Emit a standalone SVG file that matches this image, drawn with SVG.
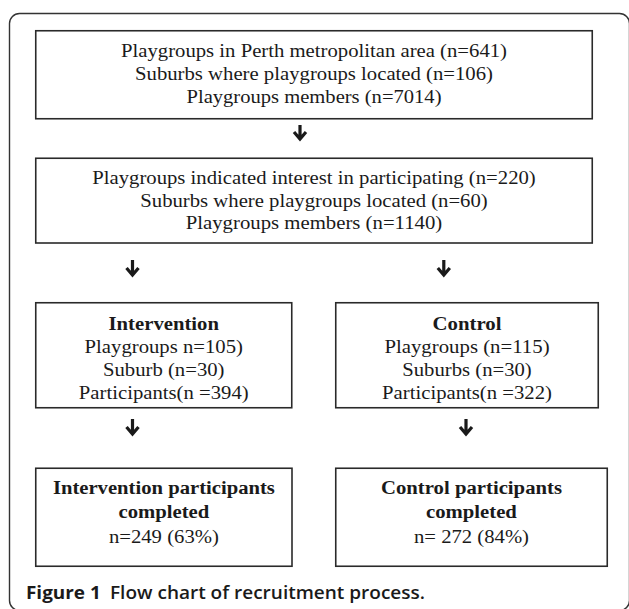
<svg xmlns="http://www.w3.org/2000/svg" width="629" height="609" viewBox="0 0 629 609">
<style>
.box{fill:#fff;stroke:#2a2a2a;stroke-width:1.6}
.t{font-family:"Liberation Serif","Times New Roman",serif;font-size:18.5px;fill:#1a1a1a;text-anchor:middle}
.b{font-weight:bold}
.arr{fill:none;stroke:#1a1a1a;stroke-width:3.2;stroke-linecap:butt;stroke-linejoin:miter}
.cap{font-family:"Open Sans","Liberation Sans",Arial,sans-serif;font-size:17.5px;fill:#1a1a1a}
</style>
<rect x="9.5" y="13.5" width="620" height="597" rx="10" ry="10" fill="none" stroke="#333" stroke-width="1.4"/>
<g id="connectors">
<path class="arr" d="M300 125V139M294 132L300 139L306 132"/>
<path class="arr" d="M132.5 260V275M126.5 268L132.5 275L138.5 268"/>
<path class="arr" d="M443.8 260V275M437.8 268L443.8 275L449.8 268"/>
<path class="arr" d="M132.5 419V434M126.5 427L132.5 434L138.5 427"/>
<path class="arr" d="M466 419V434M460 427L466 434L472 427"/>
</g>
<g id="n1">
<rect class="box" x="35.75" y="30.75" width="556.5" height="88"/>
<text class="t" x="314" y="57" textLength="386" lengthAdjust="spacingAndGlyphs">Playgroups in Perth metropolitan area (n=641)</text>
<text class="t" x="314" y="80" textLength="358" lengthAdjust="spacingAndGlyphs">Suburbs where playgroups located (n=106)</text>
<text class="t" x="314" y="103" textLength="255" lengthAdjust="spacingAndGlyphs">Playgroups members (n=7014)</text>
</g>
<g id="n2">
<rect class="box" x="35.75" y="158.25" width="556.5" height="84.75"/>
<text class="t" x="314" y="184" textLength="443.5" lengthAdjust="spacingAndGlyphs">Playgroups indicated interest in participating (n=220)</text>
<text class="t" x="314" y="206.5" textLength="347.4" lengthAdjust="spacingAndGlyphs">Suburbs where playgroups located (n=60)</text>
<text class="t" x="314" y="229" textLength="256.6" lengthAdjust="spacingAndGlyphs">Playgroups members (n=1140)</text>
</g>
<g id="n3">
<rect class="box" x="35.75" y="302.75" width="256" height="105"/>
<text class="t b" x="163.75" y="330" textLength="110.4" lengthAdjust="spacingAndGlyphs">Intervention</text>
<text class="t" x="163.75" y="353" textLength="158.3" lengthAdjust="spacingAndGlyphs">Playgroups n=105)</text>
<text class="t" x="163.75" y="376" textLength="121.5" lengthAdjust="spacingAndGlyphs">Suburb (n=30)</text>
<text class="t" x="163.75" y="399" textLength="169.8" lengthAdjust="spacingAndGlyphs">Participants(n =394)</text>
</g>
<g id="n4">
<rect class="box" x="335.75" y="302.75" width="262.5" height="105"/>
<text class="t b" x="467" y="330" textLength="69" lengthAdjust="spacingAndGlyphs">Control</text>
<text class="t" x="467" y="353" textLength="165.2" lengthAdjust="spacingAndGlyphs">Playgroups (n=115)</text>
<text class="t" x="467" y="376" textLength="129.5" lengthAdjust="spacingAndGlyphs">Suburbs (n=30)</text>
<text class="t" x="467" y="399" textLength="169.8" lengthAdjust="spacingAndGlyphs">Participants(n =322)</text>
</g>
<g id="n5">
<rect class="box" x="35.75" y="468.25" width="256.25" height="98"/>
<text class="t b" x="163.9" y="494" textLength="222" lengthAdjust="spacingAndGlyphs">Intervention participants</text>
<text class="t b" x="163.9" y="518" textLength="90.8" lengthAdjust="spacingAndGlyphs">completed</text>
<text class="t" x="163.9" y="542.5" textLength="110" lengthAdjust="spacingAndGlyphs">n=249 (63%)</text>
</g>
<g id="n6">
<rect class="box" x="335.75" y="468.25" width="271.5" height="98"/>
<text class="t b" x="471.5" y="494" textLength="181" lengthAdjust="spacingAndGlyphs">Control participants</text>
<text class="t b" x="471.5" y="518" textLength="90.8" lengthAdjust="spacingAndGlyphs">completed</text>
<text class="t" x="471.5" y="542.5" textLength="115" lengthAdjust="spacingAndGlyphs">n= 272 (84%)</text>
</g>
<g id="caption">
<text class="cap" x="26" y="599" font-weight="700" textLength="74.7" lengthAdjust="spacingAndGlyphs">Figure 1</text>
<text class="cap" x="110" y="599" font-weight="600" textLength="315" lengthAdjust="spacingAndGlyphs">Flow chart of recruitment process.</text>
</g>
</svg>
